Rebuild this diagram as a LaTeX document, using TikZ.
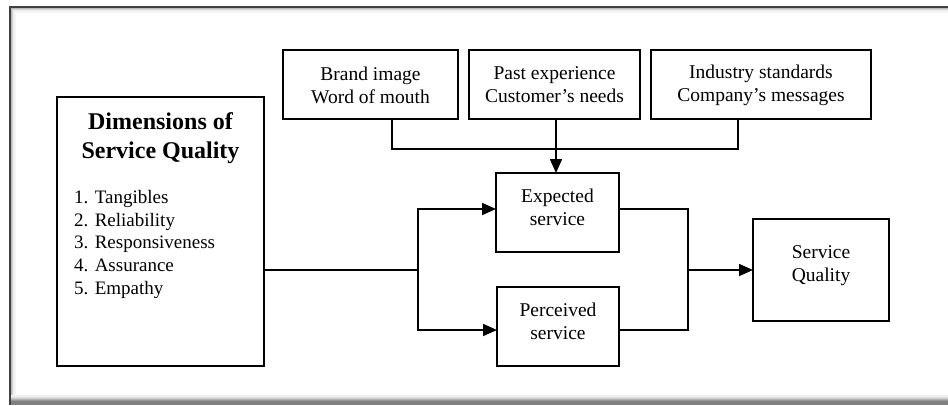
\documentclass[tikz,border=0pt]{standalone}
\usepackage{fontspec}
\setmainfont{Liberation Serif}
\usetikzlibrary{arrows.meta,positioning}
\begin{document}
\begin{tikzpicture}[x=1pt,y=-1pt,
  box/.style={draw=black,line width=2pt,inner sep=0pt},
  txt/.style={font=\fontsize{19.5}{23}\selectfont,align=center,inner sep=0pt},
  link/.style={draw=black,line width=1.6pt},
  arr/.style={link,-{Triangle[length=14pt,width=12pt]}}]
\useasboundingbox (0,0) rectangle (948,405);
\fill[white] (0,0) rectangle (948,405);
% frame with soft inner shading
\foreach \i/\c in {1/45,2/28,3/16,4/8,5/4}{
  \draw[black!\c,line width=1.1pt] (10+\i,405) -- (10+\i,7+\i) -- (948,7+\i);
}
\foreach \i/\c in {0/40,1/30,2/20,3/12,4/6}{
  \draw[black!\c,line width=1.1pt] (10,400-\i) -- (948,400-\i);
}
\fill[black!50] (10,401) rectangle (948,405);
\draw[black!75,line width=1.8pt] (10,405) -- (10,7) -- (948,7);

% boxes
\draw[box] (57,97) rectangle (264,366);
\draw[box] (283,50) rectangle (458,119);
\draw[box] (469,50) rectangle (640,119);
\draw[box] (651,50) rectangle (871,119);
\draw[box] (496,173) rectangle (619,252);
\draw[box] (497,287) rectangle (619,366);
\draw[box] (753,219) rectangle (889,321);

% anchors for the connectors
\coordinate (dimsR) at (264,270);
\coordinate (brandB) at (392,119);
\coordinate (pastB) at (556,119);
\coordinate (indB) at (738,119);
\coordinate (expT) at (556,173);
\coordinate (expL) at (496,209);
\coordinate (expR) at (619,209);
\coordinate (perL) at (497,330);
\coordinate (perR) at (619,330);
\coordinate (sqL) at (753,270);
\coordinate (split) at (418,270);
\coordinate (merge) at (688,270);

% texts
\node[txt,font=\fontsize{24}{29}\selectfont\bfseries] (dims) at (160.5,138) {Dimensions of\\Service Quality};
\node[txt,align=left,anchor=north west,font=\fontsize{19}{22.8}\selectfont] (list) at (74,190)
  {1. Tangibles\\2. Reliability\\3. Responsiveness\\4. Assurance\\5. Empathy};
\node[txt] (brand) at (370.5,85) {Brand image\\Word of mouth};
\node[txt] (past) at (554.5,85) {Past experience\\Customer's needs};
\node[txt] (ind) at (761,85) {Industry standards\\Company's messages};
\node[txt] (exp) at (557.5,207) {Expected\\service};
\node[txt] (per) at (558,321) {Perceived\\service};
\node[txt] (sq) at (821,266) {Service\\Quality};

% connectors
\draw[link] (brandB) -- (392,149) -- (738,149) -- (indB);
\draw[arr] (pastB) -- (expT);
\draw[link] (dimsR) -- (split);
\draw[arr] (split) |- (expL);
\draw[arr] (split) |- (perL);
\draw[link] (expR) -| (merge) |- (perR);
\draw[arr] (merge) -- (sqL);
\end{tikzpicture}
\end{document}
